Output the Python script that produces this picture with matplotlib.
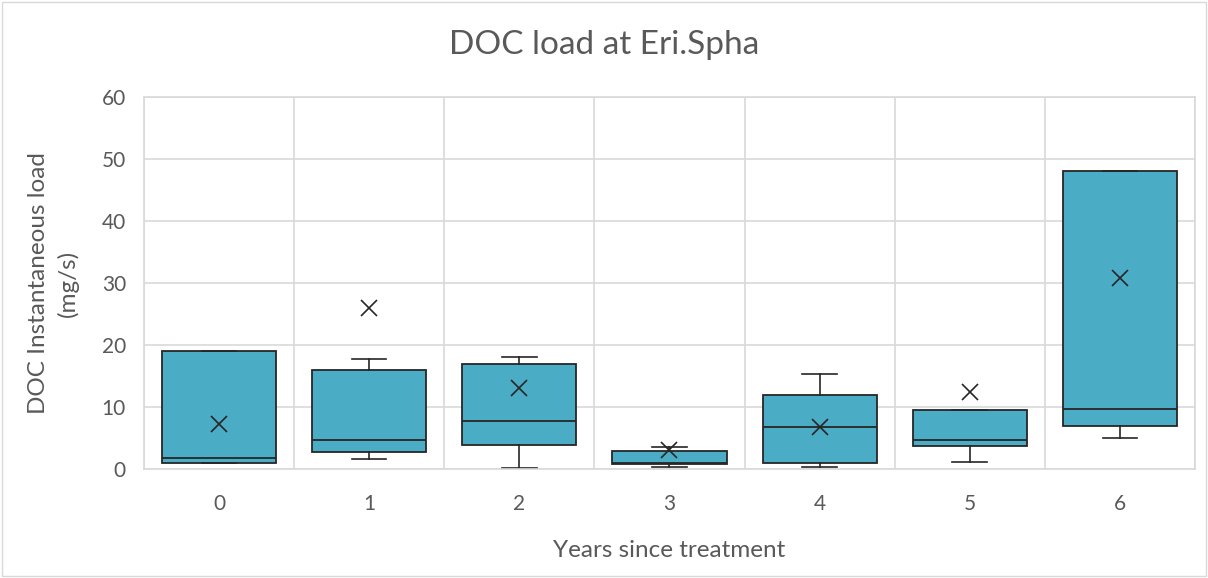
import matplotlib.pyplot as plt
from matplotlib.patches import Rectangle

plt.rcParams['font.family'] = ['Lato', 'DejaVu Sans']

years = ["0", "1", "2", "3", "4", "5", "6"]
q1 = [0.9, 2.7, 3.8, 0.75, 0.9, 3.7, 6.9]
median = [1.7, 4.7, 7.7, 1.0, 6.8, 4.7, 9.6]
q3 = [19.0, 15.9, 16.9, 2.85, 11.9, 9.5, 48.0]
whis_low = [0.9, 1.6, 0.2, 0.3, 0.3, 1.2, 5.05]
whis_high = [19.0, 17.7, 18.0, 3.5, 15.3, 9.5, 48.0]
mean = [7.2, 26.0, 13.0, 3.0, 6.8, 12.4, 30.8]

stats = []
for i in range(len(years)):
    stats.append({"label": years[i], "q1": q1[i], "med": median[i], "q3": q3[i],
                  "whislo": whis_low[i], "whishi": whis_high[i], "mean": mean[i]})

fig = plt.figure(figsize=(12.08, 5.78), dpi=100)
ax = fig.add_axes([0.1192, 0.1886, 0.87, 0.6436])

edge = "#262626"
grey = "#595959"
ax.bxp(stats, positions=range(len(years)), widths=0.76, patch_artist=True,
       showmeans=True, showfliers=False, capwidths=0.23,
       boxprops=dict(facecolor="#4BACC6", edgecolor=edge, linewidth=1.3),
       medianprops=dict(color=edge, linewidth=1.3),
       whiskerprops=dict(color=edge, linewidth=1.2),
       capprops=dict(color=edge, linewidth=1.2),
       meanprops=dict(marker="x", markersize=12, markeredgecolor=edge,
                      markeredgewidth=1.2))

ax.set_xlim(-0.5, len(years) - 0.5)
ax.set_ylim(0, 60)
ax.set_yticks(range(0, 61, 10))
ax.set_xticks(range(len(years)))
ax.set_xticklabels(years)
ax.set_xticks([i + 0.5 for i in range(-1, len(years))], minor=True)
ax.grid(True, which="major", axis="y", color="#D9D9D9", linewidth=1.2)
ax.grid(True, which="minor", axis="x", color="#D9D9D9", linewidth=1.2)
ax.set_axisbelow(True)
ax.tick_params(which="both", length=0, labelsize=15, colors=grey)
ax.tick_params(axis="x", pad=18)
ax.tick_params(axis="y", pad=13)
for s in ax.spines.values():
    s.set_color("#D9D9D9")
    s.set_linewidth(1.2)

fig.text(0.5, 0.922, "DOC load at Eri.Spha", fontsize=24, color=grey,
         ha="center", va="center")
fig.text(0.554, 0.048, "Years since treatment", fontsize=17.5, color=grey,
         ha="center", va="center")
fig.text(0.044, 0.51, "DOC Instantaneous load\n(mg/s)", fontsize=17.5, color=grey,
         ha="center", va="center", rotation=90, multialignment="center",
         linespacing=1.45)

fig.patches.append(Rectangle((0.002, 0.003), 0.996, 0.994, transform=fig.transFigure,
                             fill=False, edgecolor="#D9D9D9", linewidth=1))

plt.savefig("out.png", dpi=100)
